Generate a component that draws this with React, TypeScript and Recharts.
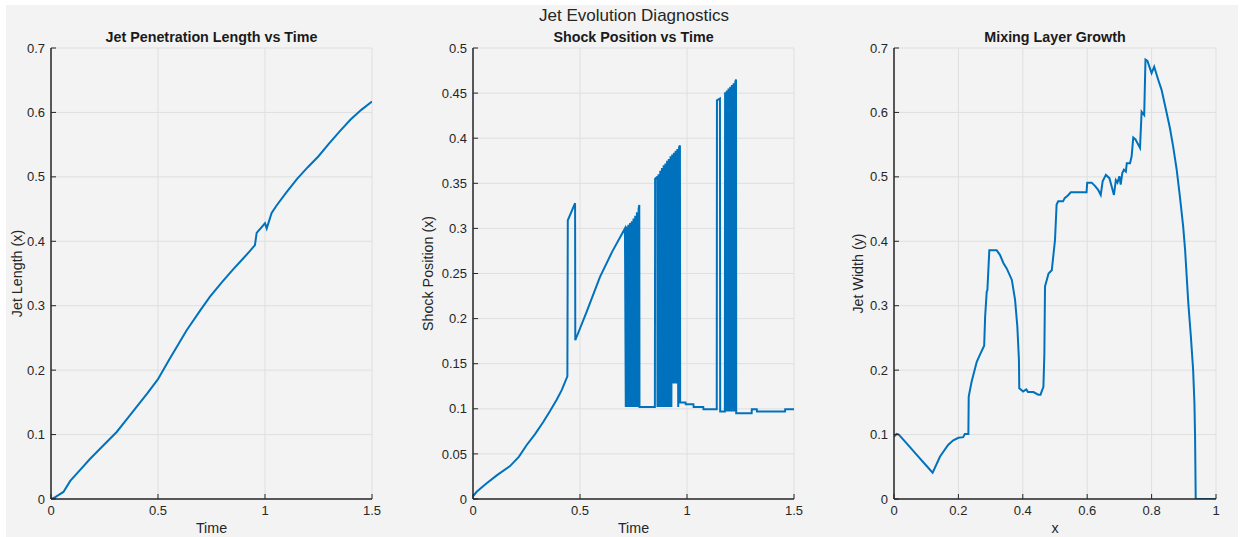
import React from 'react';
import { LineChart, Line, XAxis, YAxis, CartesianGrid } from 'recharts';

const FONT = '"Liberation Sans", Arial, Helvetica, sans-serif';
const AXIS_COLOR = '#262626';
const GRID_COLOR = '#dfdfdf';
const LINE_COLOR = '#0072BD';
const TICK_LEN = 5;

// Jet penetration length vs time
const penTime = [
  0, 0.02, 0.058, 0.09, 0.13, 0.182, 0.25, 0.307, 0.35, 0.4, 0.45, 0.5, 0.55, 0.6, 0.634, 0.7, 0.743, 0.8, 0.85, 0.9, 0.93, 0.953,
  0.961, 1.0, 1.008, 1.031, 1.055, 1.1, 1.15, 1.2, 1.25, 1.3, 1.35, 1.4, 1.45, 1.5,
];
const penLength = [
  0, 0.003, 0.011, 0.028, 0.043, 0.062, 0.085, 0.104, 0.122, 0.143, 0.164, 0.186, 0.215, 0.243, 0.262, 0.294, 0.314, 0.337, 0.356, 0.374, 0.385, 0.394,
  0.413, 0.428, 0.42, 0.444, 0.456, 0.476, 0.497, 0.515, 0.532, 0.552, 0.571, 0.589, 0.604, 0.617,
];

// Shock position vs time (the banded parts are the solver flipping between two shock locations)
const shockTime = [
  0, 0.017, 0.064, 0.111, 0.173, 0.215, 0.251, 0.29, 0.329, 0.36, 0.391, 0.415, 0.441,
  0.443, 0.477, 0.478, 0.53, 0.593, 0.65, 0.71,
  0.714, 0.718, 0.722, 0.726, 0.73, 0.734, 0.738, 0.742, 0.746, 0.75, 0.754, 0.758, 0.762, 0.766, 0.77, 0.774, 0.777, 0.778,
  0.85, 0.851, 0.861, 0.862, 0.867,
  0.871, 0.875, 0.879, 0.883, 0.887, 0.891, 0.895, 0.899, 0.903, 0.907, 0.911, 0.915, 0.919, 0.923, 0.927, 0.931, 0.935, 0.939, 0.943, 0.947, 0.951, 0.955, 0.959, 0.963, 0.967, 0.968,
  0.993, 0.994, 1.03, 1.031, 1.076, 1.077, 1.139, 1.14, 1.154, 1.155, 1.177,
  1.178, 1.182, 1.186, 1.19, 1.194, 1.198, 1.202, 1.206, 1.21, 1.214, 1.218, 1.222, 1.226, 1.229, 1.23,
  1.302, 1.303, 1.326, 1.327, 1.458, 1.459, 1.5,
];
const shockPos = [
  0.003, 0.008, 0.0174, 0.0262, 0.0365, 0.047, 0.0599, 0.072, 0.0857, 0.0975, 0.11, 0.121, 0.136,
  0.309, 0.328, 0.176, 0.207, 0.246, 0.274, 0.3,
  0.102, 0.302, 0.102, 0.304, 0.102, 0.306, 0.102, 0.308, 0.102, 0.311, 0.102, 0.314, 0.102, 0.318, 0.102, 0.322, 0.326, 0.102,
  0.102, 0.355, 0.357, 0.102, 0.36,
  0.102, 0.364, 0.102, 0.367, 0.102, 0.37, 0.102, 0.372, 0.102, 0.375, 0.102, 0.377, 0.102, 0.38, 0.102, 0.382, 0.128, 0.384, 0.128, 0.386, 0.128, 0.388, 0.102, 0.39, 0.392, 0.107,
  0.107, 0.105, 0.105, 0.102, 0.102, 0.0995, 0.0995, 0.442, 0.444, 0.097, 0.097,
  0.451, 0.097, 0.453, 0.097, 0.455, 0.097, 0.457, 0.097, 0.459, 0.097, 0.461, 0.097, 0.463, 0.465, 0.095,
  0.095, 0.0995, 0.0995, 0.097, 0.097, 0.0995, 0.0995,
];

// Mixing layer width along x
const mixX = [
  0, 0.008, 0.015, 0.04, 0.07, 0.1, 0.12, 0.143, 0.168, 0.184, 0.2, 0.215, 0.22, 0.231, 0.232, 0.241, 0.257, 0.267, 0.28, 0.283,
  0.288, 0.29, 0.296, 0.319, 0.329, 0.34, 0.35, 0.366, 0.376, 0.383, 0.388, 0.389, 0.401, 0.411, 0.416, 0.433, 0.448, 0.455, 0.464, 0.467,
  0.469, 0.48, 0.49, 0.5, 0.505, 0.51, 0.525, 0.53, 0.54, 0.549, 0.598, 0.6, 0.614, 0.624, 0.634, 0.642, 0.648, 0.658, 0.669, 0.676,
  0.683, 0.689, 0.694, 0.7, 0.704, 0.709, 0.714, 0.72, 0.723, 0.733, 0.738, 0.743, 0.75, 0.764, 0.769, 0.777, 0.781, 0.787, 0.8, 0.808,
  0.821, 0.831, 0.846, 0.857, 0.867, 0.878, 0.888, 0.898, 0.904, 0.914, 0.922, 0.929, 0.933, 0.935, 0.937, 1.0,
];
const mixWidth = [
  0.097, 0.101, 0.1, 0.086, 0.069, 0.052, 0.041, 0.066, 0.084, 0.091, 0.095, 0.096, 0.101, 0.101, 0.159, 0.182, 0.213, 0.224, 0.238, 0.283,
  0.322, 0.324, 0.386, 0.386, 0.379, 0.366, 0.358, 0.34, 0.309, 0.268, 0.216, 0.172, 0.167, 0.17, 0.166, 0.166, 0.162, 0.162, 0.174, 0.226,
  0.33, 0.35, 0.355, 0.402, 0.457, 0.462, 0.462, 0.467, 0.471, 0.476, 0.476, 0.491, 0.491, 0.486, 0.48, 0.472, 0.493, 0.503, 0.498, 0.485,
  0.472, 0.495, 0.491, 0.501, 0.488, 0.506, 0.511, 0.508, 0.521, 0.521, 0.532, 0.561, 0.558, 0.545, 0.601, 0.596, 0.682, 0.68, 0.661, 0.671,
  0.65, 0.635, 0.601, 0.5755, 0.547, 0.511, 0.469, 0.423, 0.387, 0.304, 0.252, 0.2, 0.149, 0.097, 0, 0,
];

const timeTicks = [0, 0.5, 1, 1.5];
const penTicks = [0, 0.1, 0.2, 0.3, 0.4, 0.5, 0.6, 0.7];
const shockTicks = [0, 0.05, 0.1, 0.15, 0.2, 0.25, 0.3, 0.35, 0.4, 0.45, 0.5];
const mixXTicks = [0, 0.2, 0.4, 0.6, 0.8, 1];
const mixYTicks = [0, 0.1, 0.2, 0.3, 0.4, 0.5, 0.6, 0.7];

const zip = (xs: number[], ys: number[]) => xs.map((x, i) => ({ x, y: ys[i] }));

const PLOT_TOP = 48;
const PLOT_BOTTOM = 499;
const PAGE_H = 537;
const PAD = 60;

const tickText = { fill: AXIS_COLOR, fontSize: 13, fontFamily: FONT };
const boxLine = { stroke: AXIS_COLOR, strokeWidth: 1.5 };

// ticks point inward, MATLAB style; labels sit outside the box
const LeftTick = ({ x, y, payload }: any) => (
  <g>
    <line x1={x} x2={x + TICK_LEN} y1={y} y2={y} stroke={AXIS_COLOR} />
    <text x={x - 6} y={y + 4.6} textAnchor="end" {...tickText}>{payload.value}</text>
  </g>
);
const BottomTick = ({ x, y, payload }: any) => (
  <g>
    <line x1={x} x2={x} y1={y} y2={y - TICK_LEN} stroke={AXIS_COLOR} />
    <text x={x} y={y + 16.3} textAnchor="middle" {...tickText}>{payload.value}</text>
  </g>
);
const RightTick = ({ x, y }: any) => (
  <line x1={x} x2={x - TICK_LEN} y1={y} y2={y} stroke={AXIS_COLOR} />
);
const TopTick = ({ x, y }: any) => (
  <line x1={x} x2={x} y1={y} y2={y + TICK_LEN} stroke={AXIS_COLOR} />
);

interface PanelProps {
  left: number;
  width: number;
  yLabelGap: number;
  title: string;
  xLabel: string;
  yLabel: string;
  data: { x: number; y: number }[];
  xDomain: [number, number];
  xTicks: number[];
  yDomain: [number, number];
  yTicks: number[];
}

const Panel: React.FC<PanelProps> = ({ left, width, yLabelGap, title, xLabel, yLabel, data, xDomain, xTicks, yDomain, yTicks }) => {
  const cx = left + width / 2;
  const cy = (PLOT_TOP + PLOT_BOTTOM) / 2;
  return (
    <>
      <div style={{ position: 'absolute', left: left - PAD, top: 0 }}>
        <LineChart
          width={PAD + width + 12}
          height={PAGE_H}
          data={data}
          margin={{ top: PLOT_TOP, right: 12, bottom: 0, left: 0 }}
        >
          <CartesianGrid stroke={GRID_COLOR} strokeWidth={1} />
          <XAxis
            dataKey="x"
            type="number"
            domain={xDomain}
            ticks={xTicks}
            interval={0}
            allowDataOverflow
            height={PAGE_H - PLOT_BOTTOM}
            tickSize={0}
            tickMargin={0}
            tickLine={false}
            axisLine={boxLine}
            tick={BottomTick}
          />
          <XAxis
            xAxisId="top"
            orientation="top"
            dataKey="x"
            type="number"
            domain={xDomain}
            ticks={xTicks}
            interval={0}
            allowDataOverflow
            height={0}
            tickSize={0}
            tickMargin={0}
            tickLine={false}
            axisLine={boxLine}
            tick={TopTick}
          />
          <YAxis
            type="number"
            domain={yDomain}
            ticks={yTicks}
            interval={0}
            allowDataOverflow
            width={PAD}
            tickSize={0}
            tickMargin={0}
            tickLine={false}
            axisLine={boxLine}
            tick={LeftTick}
          />
          <YAxis
            yAxisId="right"
            orientation="right"
            type="number"
            domain={yDomain}
            ticks={yTicks}
            interval={0}
            allowDataOverflow
            width={0}
            tickSize={0}
            tickMargin={0}
            tickLine={false}
            axisLine={boxLine}
            tick={RightTick}
          />
          <Line
            type="linear"
            dataKey="y"
            stroke={LINE_COLOR}
            strokeWidth={2}
            dot={false}
            activeDot={false}
            isAnimationActive={false}
          />
        </LineChart>
      </div>
      <svg width={1243} height={PAGE_H} style={{ position: 'absolute', left: 0, top: 0, pointerEvents: 'none' }}>
        <text x={cx} y={42.2} textAnchor="middle" fontFamily={FONT} fontSize={14.3} fontWeight="bold" fill="#1a1a1a">
          {title}
        </text>
        <text x={cx} y={532.6} textAnchor="middle" fontFamily={FONT} fontSize={14.3} fill={AXIS_COLOR}>
          {xLabel}
        </text>
        <text
          transform={`translate(${left - yLabelGap}, ${cy}) rotate(-90)`}
          textAnchor="middle"
          fontFamily={FONT}
          fontSize={14.3}
          fill={AXIS_COLOR}
        >
          {yLabel}
        </text>
      </svg>
    </>
  );
};

export default function App() {
  return (
    <div style={{ position: 'absolute', left: 0, top: 0, width: 1243, height: PAGE_H, background: '#ffffff', overflow: 'hidden' }}>
      <div style={{ position: 'absolute', left: 6, top: 5, width: 1232, height: PAGE_H - 5, background: '#f3f3f3' }} />
      <div
        style={{
          position: 'absolute',
          left: 0,
          width: 1268,
          top: 4,
          textAlign: 'center',
          fontFamily: FONT,
          fontSize: 17,
          color: AXIS_COLOR,
          lineHeight: '24px',
        }}
      >
        Jet Evolution Diagnostics
      </div>
      <Panel
        left={51}
        width={321}
        yLabelGap={29.5}
        title="Jet Penetration Length vs Time"
        xLabel="Time"
        yLabel="Jet Length (x)"
        data={zip(penTime, penLength)}
        xDomain={[0, 1.5]}
        xTicks={timeTicks}
        yDomain={[0, 0.7]}
        yTicks={penTicks}
      />
      <Panel
        left={473}
        width={321}
        yLabelGap={40}
        title="Shock Position vs Time"
        xLabel="Time"
        yLabel="Shock Position (x)"
        data={zip(shockTime, shockPos)}
        xDomain={[0, 1.5]}
        xTicks={timeTicks}
        yDomain={[0, 0.5]}
        yTicks={shockTicks}
      />
      <Panel
        left={894}
        width={322}
        yLabelGap={31}
        title="Mixing Layer Growth"
        xLabel="x"
        yLabel="Jet Width (y)"
        data={zip(mixX, mixWidth)}
        xDomain={[0, 1]}
        xTicks={mixXTicks}
        yDomain={[0, 0.7]}
        yTicks={mixYTicks}
      />
    </div>
  );
}
